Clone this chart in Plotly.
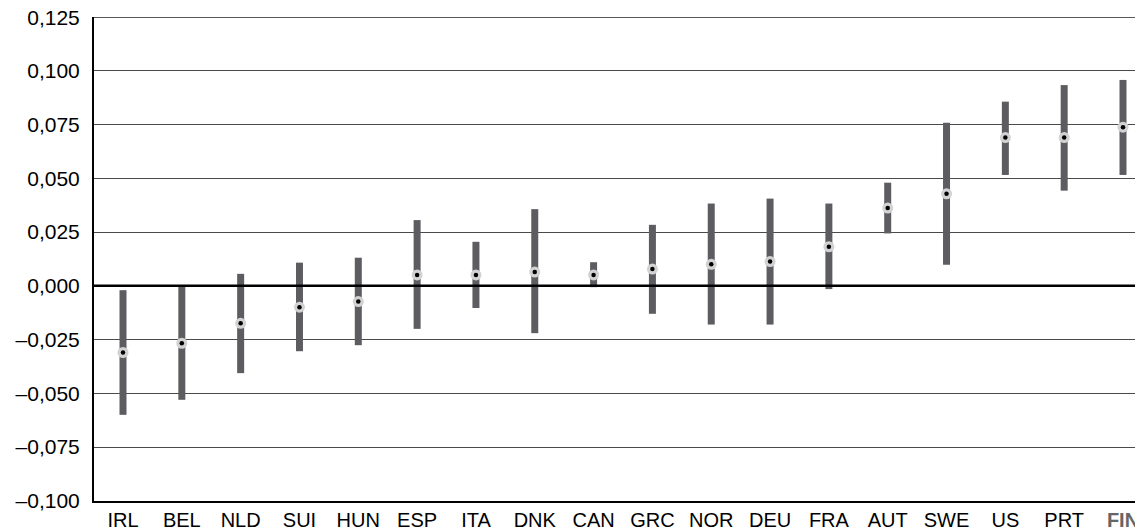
import plotly.graph_objects as go

countries = ["IRL", "BEL", "NLD", "SUI", "HUN", "ESP", "ITA", "DNK", "CAN",
             "GRC", "NOR", "DEU", "FRA", "AUT", "SWE", "US", "PRT", "FIN"]
low = [-0.060, -0.053, -0.0406, -0.0304, -0.0276, -0.0200, -0.0103, -0.0220, -0.0006,
       -0.0130, -0.0180, -0.0180, -0.0015, 0.0244, 0.0098, 0.0516, 0.0443, 0.0516]
high = [-0.002, 0.000, 0.0056, 0.0108, 0.0131, 0.0306, 0.0205, 0.0357, 0.0110,
        0.0284, 0.0383, 0.0406, 0.0383, 0.0480, 0.0759, 0.0857, 0.0934, 0.0958]
point = [-0.031, -0.0267, -0.0174, -0.0099, -0.0073, 0.0051, 0.0051, 0.0064, 0.0051,
         0.0078, 0.0100, 0.0113, 0.0182, 0.0362, 0.0428, 0.0690, 0.0690, 0.0738]

y_ticks = [-0.1, -0.075, -0.05, -0.025, 0.0, 0.025, 0.05, 0.075, 0.1, 0.125]
y_labels = ["\u20130,100", "\u20130,075", "\u20130,050", "\u20130,025", "0,000",
            "0,025", "0,050", "0,075", "0,100", "0,125"]

idx = list(range(len(countries)))
bx, by = [], []
for i, lo, hi in zip(idx, low, high):
    bx += [i, i, None]
    by += [lo, hi, None]

fig = go.Figure()
fig.add_trace(go.Scatter(x=bx, y=by, mode="lines",
                         line=dict(color="#5d5c61", width=7), hoverinfo="skip",
                         showlegend=False))
fig.add_trace(go.Scatter(x=idx, y=point, mode="markers",
                         marker=dict(size=11, color="#d2d2d2", line=dict(width=0)),
                         showlegend=False))
fig.add_trace(go.Scatter(x=idx, y=point, mode="markers",
                         marker=dict(size=4.5, color="#000000", line=dict(width=0)),
                         showlegend=False))

ticktext = [c if c != "FIN" else "<b><span style='color:#666666'>FIN</span></b>" for c in countries]

fig.add_shape(type="line", xref="paper", yref="y", x0=0, x1=1, y0=0, y1=0,
              line=dict(color="#000000", width=2.5))
# top gridline (plotly drops gridlines lying on the plot edge)
fig.add_shape(type="line", xref="paper", yref="y", x0=0, x1=1,
              y0=y_ticks[-1], y1=y_ticks[-1], line=dict(color="#222222", width=1.2))

# page body has an 8px margin, so the figure is shrunk and margins shifted by 8px
fig.update_layout(
    width=1135, height=522,
    margin=dict(l=86, r=0, t=9, b=29),
    paper_bgcolor="white", plot_bgcolor="white",
    font=dict(family="Liberation Sans, Arial, sans-serif", size=20, color="#000000"),
    xaxis=dict(range=[-0.493, 17.34], tickvals=idx, ticktext=ticktext,
               showgrid=False, zeroline=False, showline=True, linecolor="#000000",
               linewidth=2, ticks="", ticklabelstandoff=0, fixedrange=True,
               automargin=False, tickfont=dict(size=20), ticklabeloverflow="allow"),
    yaxis=dict(range=[-0.10008, 0.12508], tickvals=y_ticks, ticktext=y_labels,
               showgrid=True, gridcolor="#4a4a4a", gridwidth=1, zeroline=False,
               showline=True, linecolor="#000000", linewidth=2, ticks="",
               ticklabelstandoff=8, fixedrange=True, automargin=False,
               tickfont=dict(size=21), ticklabeloverflow="allow"),
)

fig.write_html("out.html")
